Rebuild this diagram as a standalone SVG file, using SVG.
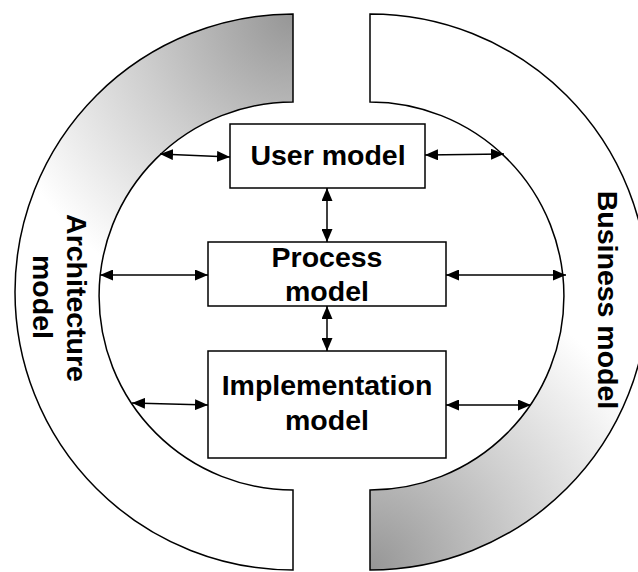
<svg xmlns="http://www.w3.org/2000/svg" width="638" height="572" viewBox="0 0 638 572">
  <style>
    .ring { stroke: #000; stroke-width: 1.5; stroke-linejoin: miter; }
    .box { fill: #fff; stroke: #000; stroke-width: 1.5; }
    .lbl { font-family: "Liberation Sans", Arial, sans-serif; font-weight: bold; font-size: 28.5px; fill: #000; text-anchor: middle; }
    .conn { stroke: #000; stroke-width: 1.5; fill: none; marker-start: url(#ah); marker-end: url(#ah); }
  </style>
  <defs>
    <radialGradient id="gLeft" gradientUnits="userSpaceOnUse" cx="293" cy="14" r="310">
      <stop offset="0" stop-color="#969696"/>
      <stop offset="0.5" stop-color="#cdcdcd"/>
      <stop offset="1" stop-color="#ffffff"/>
    </radialGradient>
    <radialGradient id="gRight" gradientUnits="userSpaceOnUse" cx="370" cy="570" r="310">
      <stop offset="0" stop-color="#969696"/>
      <stop offset="0.5" stop-color="#cdcdcd"/>
      <stop offset="1" stop-color="#ffffff"/>
    </radialGradient>
    <marker id="ah" viewBox="0 0 13 11" refX="13" refY="5.5" markerWidth="13" markerHeight="11" markerUnits="userSpaceOnUse" orient="auto-start-reverse">
      <path d="M0,0 L13,5.5 L0,11 Z" fill="#000"/>
    </marker>
  </defs>

  <g id="architecture-model">
    <path class="ring" fill="url(#gLeft)" d="M293,14 A278,278 0 0 0 293,570 L293,490 A194,194 0 0 1 293,102 Z"/>
    <text class="lbl" transform="translate(67,298) rotate(90)">Architecture</text>
    <text class="lbl" transform="translate(33,297) rotate(90)">model</text>
  </g>

  <g id="business-model">
    <path class="ring" fill="url(#gRight)" d="M370,14 A278,278 0 0 1 370,570 L370,490 A194,194 0 0 0 370,102 Z"/>
    <text class="lbl" transform="translate(598,300) rotate(90)">Business model</text>
  </g>

  <g id="user-model">
    <rect class="box" x="230" y="124" width="195" height="64"/>
    <text class="lbl" x="328" y="165">User model</text>
  </g>

  <g id="process-model">
    <rect class="box" x="208" y="242" width="238" height="64"/>
    <text class="lbl" x="327" y="267">Process</text>
    <text class="lbl" x="327" y="301">model</text>
  </g>

  <g id="implementation-model">
    <rect class="box" x="208" y="351" width="238" height="107"/>
    <text class="lbl" x="327" y="395">Implementation</text>
    <text class="lbl" x="327" y="430">model</text>
  </g>

  <g id="connectors">
    <line class="conn" x1="160" y1="154" x2="230" y2="157"/>
    <line class="conn" x1="425" y1="155" x2="504" y2="154"/>
    <line class="conn" x1="327" y1="188" x2="327" y2="242"/>
    <line class="conn" x1="100" y1="275" x2="208" y2="275"/>
    <line class="conn" x1="446" y1="275" x2="566" y2="275"/>
    <line class="conn" x1="327" y1="306" x2="327" y2="351"/>
    <line class="conn" x1="132" y1="403" x2="208" y2="405"/>
    <line class="conn" x1="446" y1="405" x2="531" y2="405"/>
  </g>
</svg>
